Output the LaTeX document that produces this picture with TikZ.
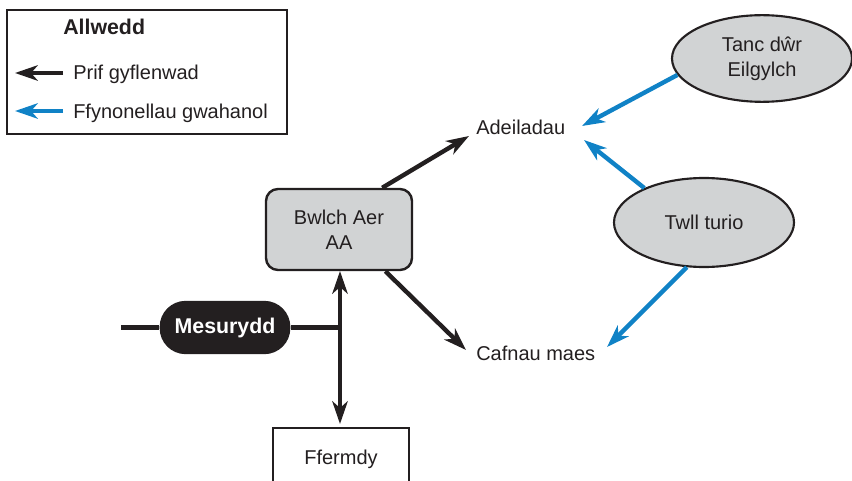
\documentclass[tikz,border=0pt]{standalone}
\usepackage{fontspec}
\setmainfont{Liberation Sans}
\usetikzlibrary{arrows.meta,shapes.geometric}
\definecolor{ink}{HTML}{231F20}
\definecolor{wblue}{HTML}{1082C6}
\definecolor{lgray}{HTML}{D1D3D4}
\tikzset{
  txt/.style={inner sep=0pt, font=\fontsize{15}{18.75}\selectfont, text=ink},
  boldtxt/.style={inner sep=0pt, font=\fontsize{16}{19}\selectfont\bfseries},
  tipstyle/.style={},
  mainarrow/.style={draw=ink, line width=3.3pt, -{Stealth[length=17pt,width=11.5pt,inset=5pt]}},
  bothwayarrow/.style={draw=ink, line width=3.3pt, {Stealth[length=17pt,width=11.5pt,inset=5pt]}-{Stealth[length=17pt,width=11.5pt,inset=5pt]}},
  bluearrow/.style={draw=wblue, line width=3.3pt, -{Stealth[length=17pt,width=11.5pt,inset=5pt]}},
  plainline/.style={draw=ink, line width=3.3pt},
  grayell/.style={ellipse, draw=ink, line width=1.6pt, fill=lgray, inner sep=0pt, align=center, font=\fontsize{15}{18.75}\selectfont, text=ink},
}
\begin{document}
\begin{tikzpicture}[x=0.75pt,y=-0.75pt]
\useasboundingbox (0,0) rectangle (852,481);
% legend
\node[draw=ink, line width=1.5pt, minimum width=210pt, minimum height=93pt, inner sep=0pt] (legend) at (147,72) {};
\node[boldtxt, anchor=base west, text=ink] (legtitle) at (63,35) {Allwedd};
\node[txt, anchor=base west] (legmain) at (73,80) {Prif gyflenwad};
\node[txt, anchor=base west] (legblue) at (73,118) {Ffynonellau gwahanol};
\coordinate (lm1) at (63,73);
\coordinate (lm2) at (15,73);
\coordinate (lb1) at (63,111);
\coordinate (lb2) at (15,111);
\draw[mainarrow] (lm1) -- (lm2);
\draw[bluearrow] (lb1) -- (lb2);
% main nodes
\node[draw=ink, line width=1.8pt, fill=lgray, rounded corners=9pt, minimum width=109.5pt, minimum height=60.75pt, align=center, inner sep=0pt, font=\fontsize{15}{18.75}\selectfont, text=ink] (bwlch) at (339,229.5) {Bwlch Aer\\AA};
\node[fill=ink, rounded corners=19.5pt, minimum width=98pt, minimum height=40pt, inner sep=0pt, text=white, font=\fontsize{16}{19}\selectfont\bfseries] (mes) at (225,327.5) {Mesurydd};
\node[draw=ink, line width=1.5pt, fill=white, minimum width=102pt, minimum height=46.5pt, inner sep=0pt, font=\fontsize{15}{18.75}\selectfont, text=ink] (fferm) at (341,459) {Ffermdy};
\node[txt, anchor=base west] (adeil) at (476,135) {Adeiladau};
\node[txt, anchor=base west] (cafn) at (476,360) {Cafnau maes};
\node[grayell, minimum width=135pt, minimum height=65pt] (tanc) at (762,58.5) {Tanc dŵr\\Eilgylch};
\node[grayell, minimum width=135pt, minimum height=66.75pt] (twll) at (704,222.5) {Twll turio};
% connectors
\coordinate (mesin) at (121,327.5);
\coordinate (junc) at (340,327.5);
\coordinate (topA) at (340,271);
\coordinate (botA) at (340,424);
\coordinate (tipAd) at (469,136);
\coordinate (tipCa) at (466,350);
\coordinate (tipAd2) at (582,126);
\coordinate (tipAd3) at (584,140);
\coordinate (tipCa2) at (607,347);
\draw[plainline] (mesin) -- (mes.west);
\draw[plainline] (mes.east) -- (junc);
\draw[bothwayarrow] (topA) -- (botA);
\draw[mainarrow] (bwlch.44.6) -- (tipAd);
\draw[mainarrow] (bwlch.-42.6) -- (tipCa);
\draw[bluearrow] (tanc.191.4) -- (tipAd2);
\draw[bluearrow] (twll.150) -- (tipAd3);
\draw[bluearrow] (twll.249.3) -- (tipCa2);
\end{tikzpicture}
\end{document}
